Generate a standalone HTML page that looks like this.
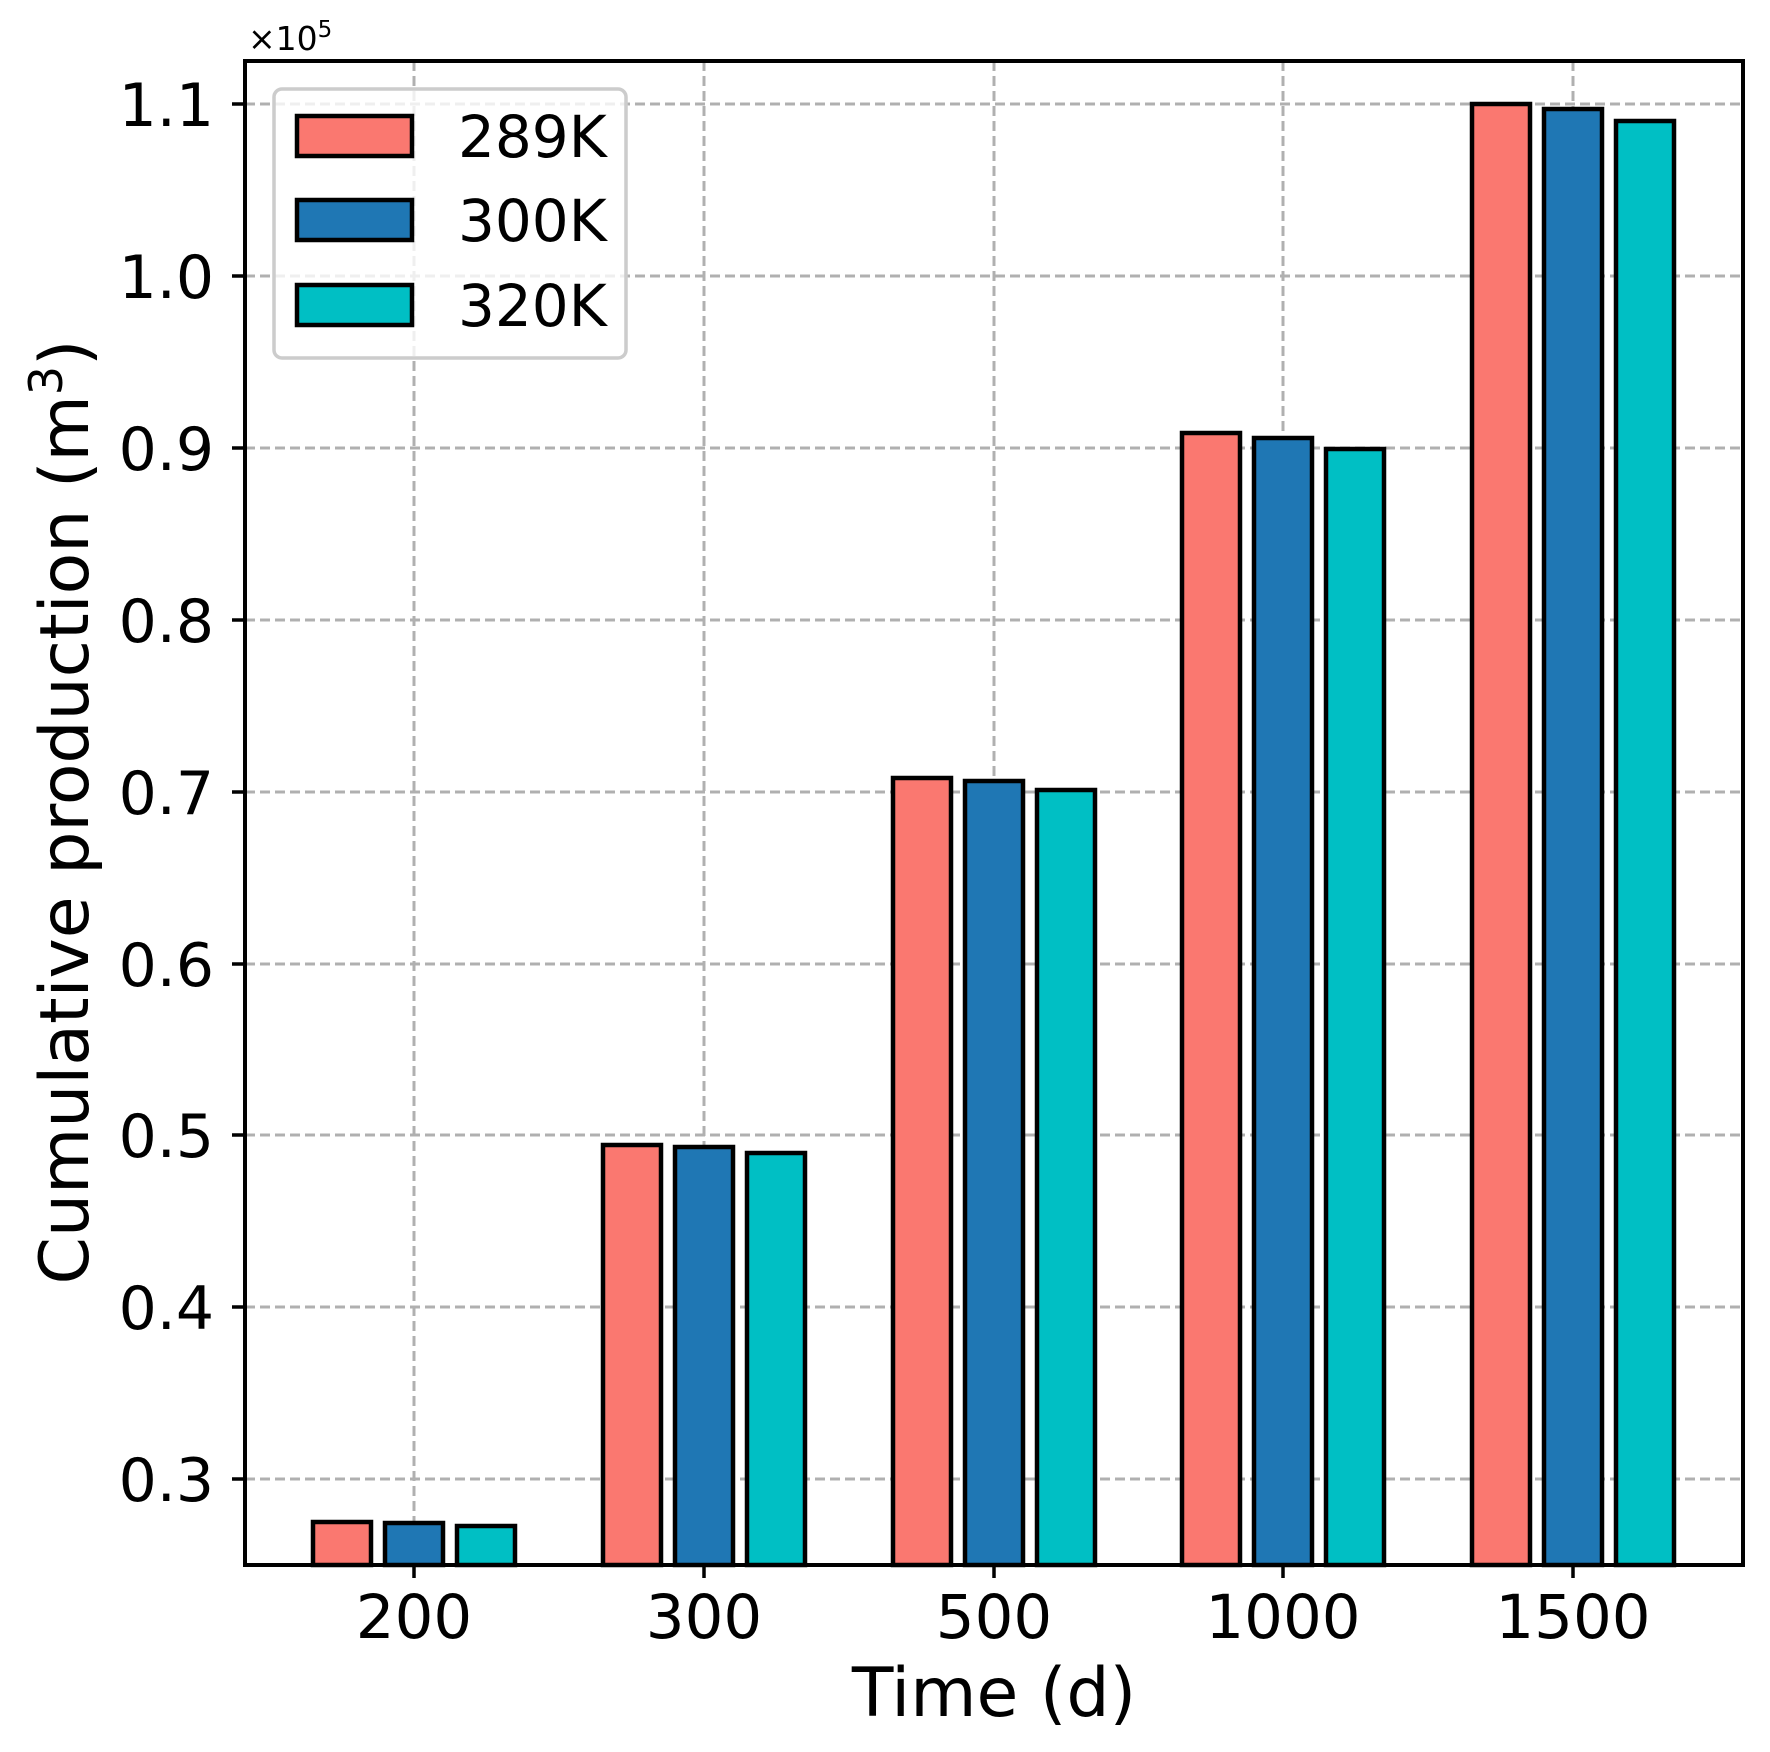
<!DOCTYPE html>
<html><head><meta charset="utf-8"><style>body{margin:0;background:#fff}svg{display:block}</style></head><body>
<svg width="1770" height="1752" xmlns="http://www.w3.org/2000/svg" font-family="DejaVu Sans, Liberation Sans, sans-serif">
<rect width="1770" height="1752" fill="#fff"/>
<g stroke="#b0b0b0" stroke-width="3" stroke-dasharray="10,5">
<line x1="414" y1="61" x2="414" y2="1565"/><line x1="704" y1="61" x2="704" y2="1565"/><line x1="994" y1="61" x2="994" y2="1565"/><line x1="1283" y1="61" x2="1283" y2="1565"/><line x1="1573" y1="61" x2="1573" y2="1565"/>
<line x1="245" y1="104" x2="1743" y2="104"/><line x1="245" y1="276" x2="1743" y2="276"/><line x1="245" y1="448" x2="1743" y2="448"/><line x1="245" y1="620" x2="1743" y2="620"/><line x1="245" y1="792" x2="1743" y2="792"/><line x1="245" y1="964" x2="1743" y2="964"/><line x1="245" y1="1135" x2="1743" y2="1135"/><line x1="245" y1="1307" x2="1743" y2="1307"/><line x1="245" y1="1479" x2="1743" y2="1479"/>
</g>
<g stroke="#000" stroke-width="4.5">
<rect x="313" y="1522" width="58" height="43" fill="#fa7870"/><rect x="385" y="1523" width="58" height="42" fill="#1f77b4"/><rect x="457" y="1526" width="58" height="39" fill="#00bfc4"/>
<rect x="603" y="1145" width="58" height="420" fill="#fa7870"/><rect x="675" y="1147" width="58" height="418" fill="#1f77b4"/><rect x="747" y="1153" width="58" height="412" fill="#00bfc4"/>
<rect x="893" y="778" width="58" height="787" fill="#fa7870"/><rect x="965" y="781" width="58" height="784" fill="#1f77b4"/><rect x="1037" y="790" width="58" height="775" fill="#00bfc4"/>
<rect x="1182" y="433" width="58" height="1132" fill="#fa7870"/><rect x="1254" y="438" width="58" height="1127" fill="#1f77b4"/><rect x="1326" y="449" width="58" height="1116" fill="#00bfc4"/>
<rect x="1472" y="104" width="58" height="1461" fill="#fa7870"/><rect x="1544" y="109" width="58" height="1456" fill="#1f77b4"/><rect x="1616" y="121" width="58" height="1444" fill="#00bfc4"/>
</g>
<rect x="245" y="61" width="1498" height="1504" fill="none" stroke="#000" stroke-width="4"/>
<g stroke="#000" stroke-width="3.5">
<line x1="414" y1="1565" x2="414" y2="1578"/><line x1="704" y1="1565" x2="704" y2="1578"/><line x1="994" y1="1565" x2="994" y2="1578"/><line x1="1283" y1="1565" x2="1283" y2="1578"/><line x1="1573" y1="1565" x2="1573" y2="1578"/>
<line x1="232" y1="104" x2="245" y2="104"/><line x1="232" y1="276" x2="245" y2="276"/><line x1="232" y1="448" x2="245" y2="448"/><line x1="232" y1="620" x2="245" y2="620"/><line x1="232" y1="792" x2="245" y2="792"/><line x1="232" y1="964" x2="245" y2="964"/><line x1="232" y1="1135" x2="245" y2="1135"/><line x1="232" y1="1307" x2="245" y2="1307"/><line x1="232" y1="1479" x2="245" y2="1479"/>
</g>
<g font-size="60" text-anchor="end">
<text x="214" y="126">1.1</text><text x="214" y="298">1.0</text><text x="214" y="470">0.9</text><text x="214" y="642">0.8</text><text x="214" y="814">0.7</text><text x="214" y="986">0.6</text><text x="214" y="1157">0.5</text><text x="214" y="1329">0.4</text><text x="214" y="1501">0.3</text>
</g>
<g font-size="61" text-anchor="middle">
<text x="414" y="1638">200</text><text x="704" y="1638">300</text><text x="994" y="1638">500</text><text x="1283" y="1638">1000</text><text x="1573" y="1638">1500</text>
</g>
<text x="994" y="1716" font-size="68" text-anchor="middle">Time (d)</text>
<text transform="translate(88,812) rotate(-90)" font-size="68" text-anchor="middle">Cumulative production (m<tspan font-size="46" dy="-26">3</tspan><tspan dy="26">)</tspan></text>
<text x="248" y="50" font-size="33">×10<tspan font-size="23" dy="-13">5</tspan></text>
<rect x="274" y="89" width="352" height="269" rx="8" fill="#fff" fill-opacity="0.8" stroke="#cccccc" stroke-width="3.5"/>
<g stroke="#000" stroke-width="4.5">
<rect x="297" y="116" width="115" height="40" fill="#fa7870"/><rect x="297" y="200" width="115" height="40" fill="#1f77b4"/><rect x="297" y="285" width="115" height="40" fill="#00bfc4"/>
</g>
<g font-size="58"><text x="458" y="157">289K</text><text x="458" y="241">300K</text><text x="458" y="326">320K</text></g>
</svg>
</body></html>
